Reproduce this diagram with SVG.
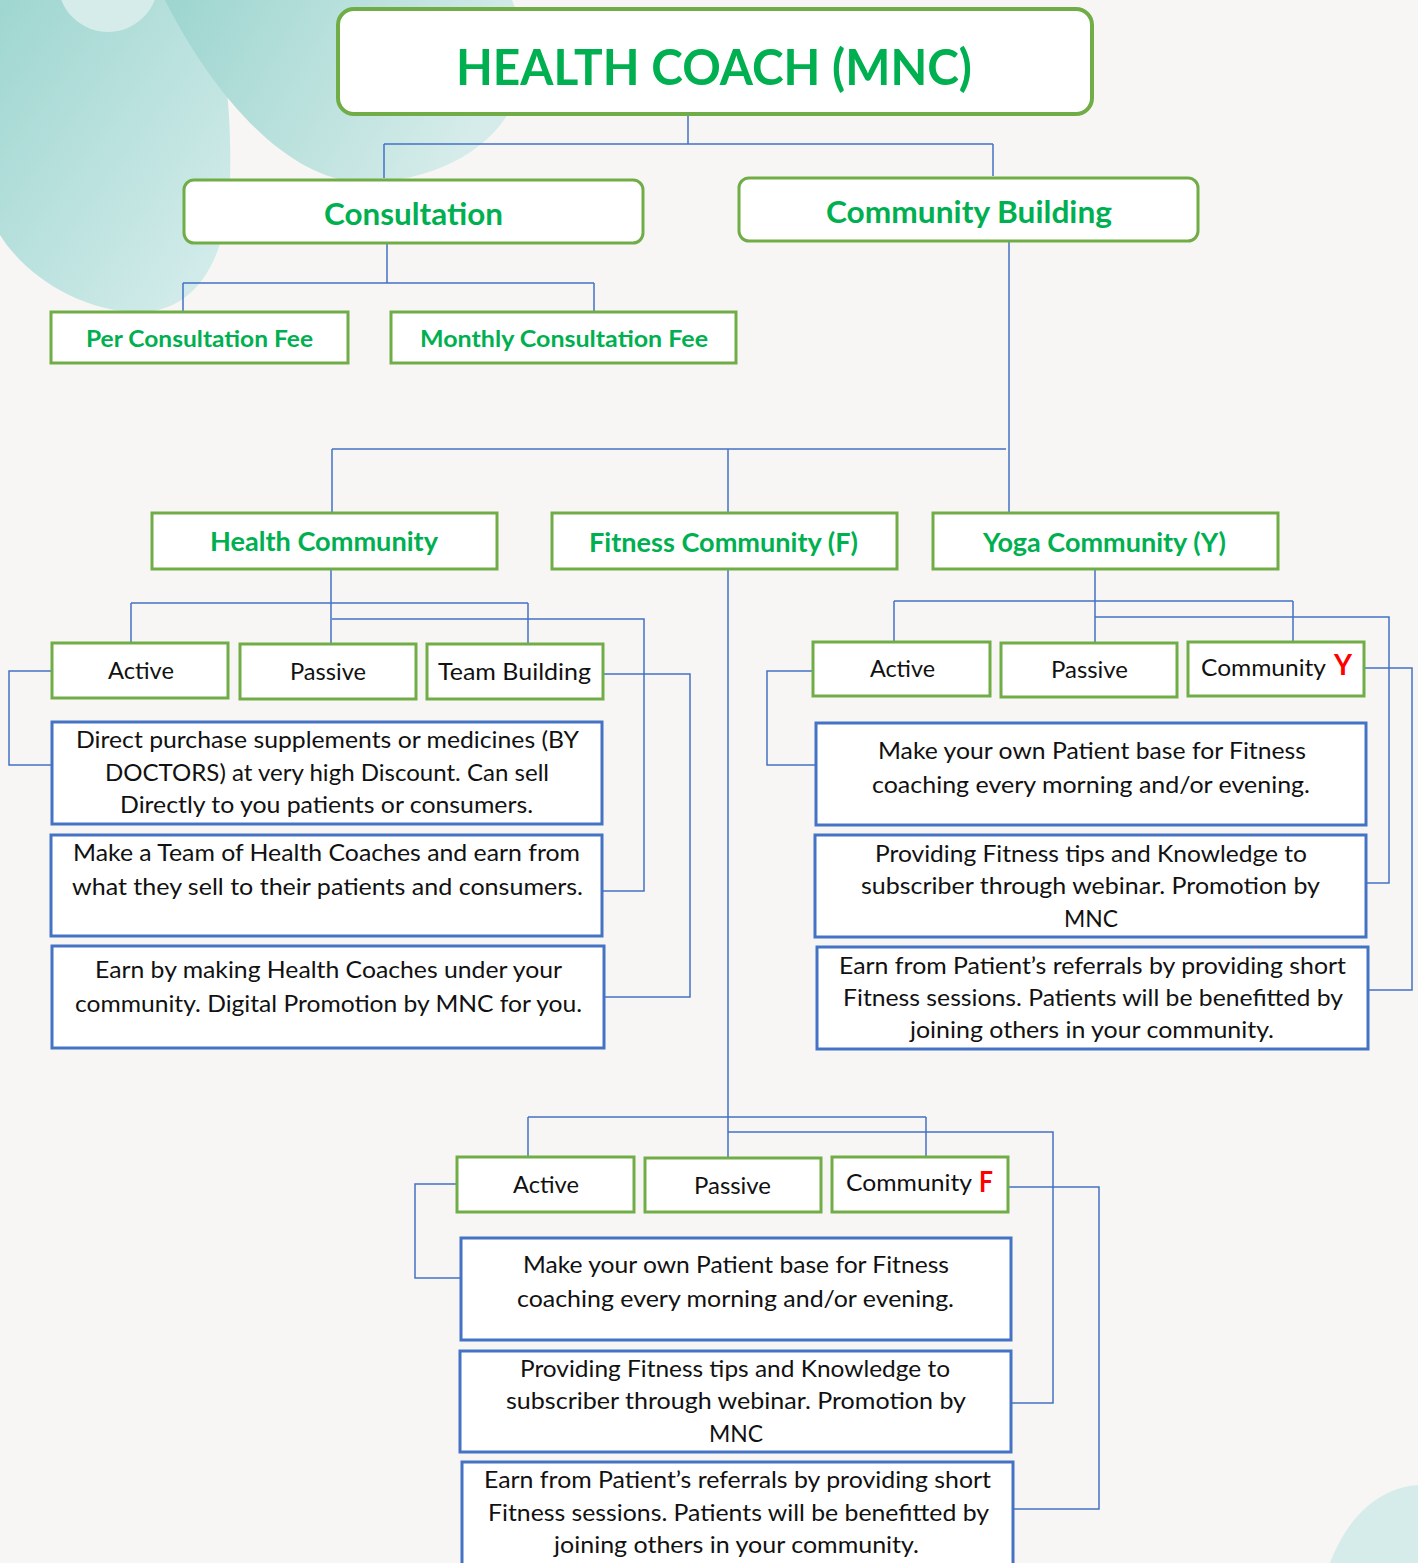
<svg xmlns="http://www.w3.org/2000/svg" width="1418" height="1563" viewBox="0 0 1418 1563">
<defs>
<linearGradient id="gA" x1="0" y1="0" x2="1" y2="1">
<stop offset="0" stop-color="#9fd6d0"/>
<stop offset="1" stop-color="#d8eeed"/>
</linearGradient>
<linearGradient id="gB" x1="0" y1="0" x2="1" y2="0.3">
<stop offset="0" stop-color="#9dd5cf"/>
<stop offset="1" stop-color="#d6ecea"/>
</linearGradient>
<style>
.g{fill:#fff;stroke:#70ad47;stroke-width:3}
.b{fill:#fff;stroke:#4472c4;stroke-width:3}
.c{fill:none;stroke:#4472c4;stroke-width:1.5}
.tg{font-family:Lato,"Liberation Sans",sans-serif;font-weight:700;fill:#00b050}
.t{font-family:Lato,"Liberation Sans",sans-serif;font-size:24px;fill:#111}
.tx{font-family:Lato,"Liberation Sans",sans-serif;font-size:23px;fill:#111}
.r{font-family:Lato,"Liberation Sans",sans-serif;font-weight:700;font-size:28px;fill:#ff0000}
</style>
</defs>
<rect width="1418" height="1563" fill="#f7f6f4"/>
<g id="background">
<path d="M0,0 L205,0 C225,45 232,110 230,180 C228,260 195,312 140,312 C80,312 25,275 0,235 Z" fill="url(#gA)"/>
<circle cx="108" cy="-18" r="50" fill="#d5ecea"/>
<path d="M165,0 C215,100 290,180 360,182 C430,184 495,150 515,100 C530,60 522,25 512,0 Z" fill="url(#gB)"/>
<path d="M1330,1563 C1350,1510 1385,1487 1418,1485 L1418,1563 Z" fill="#d6ecea"/>
</g>
<g id="connectors">
<path class="c" d="M688,115 V144 M384,144 H993 M384,144 V178 M993,144 V176"/>
<path class="c" d="M387,243 V283 M183,283 H594 M183,283 V312 M594,283 V312"/>
<path class="c" d="M1009,241 V513 M332,449 H1006 M332,449 V513 M728,449 V513"/>
<path class="c" d="M331,569 V643 M131,603 H528 M131,603 V643 M528,603 V644 M332,619 H644 V891 H602"/>
<path class="c" d="M52,671 H9 V765 H52"/>
<path class="c" d="M604,674 H690 V997 H605"/>
<path class="c" d="M1095,569 V642 M894,601 H1293 M894,601 V642 M1293,601 V642 M1095,617 H1389 V883 H1367"/>
<path class="c" d="M813,671 H767 V765 H816"/>
<path class="c" d="M1364,668 H1412 V990 H1368"/>
<path class="c" d="M728,569 V1157 M528,1117 H926 M528,1117 V1157 M926,1117 V1157 M728,1132 H1053 V1403 H1011"/>
<path class="c" d="M457,1184 H415 V1278 H461"/>
<path class="c" d="M1008,1187 H1099 V1509 H1013"/>
</g>
<g id="root">
<rect x="338" y="9" width="754" height="105" rx="16" class="g" style="stroke-width:4"/>
<text class="tg" x="456" y="85" font-size="50" textLength="516" lengthAdjust="spacingAndGlyphs">HEALTH COACH (MNC)</text>
</g>
<g id="consultation">
<rect x="184" y="180" width="459" height="63" rx="10" class="g"/>
<text class="tg" x="324" y="225" font-size="31" textLength="179" lengthAdjust="spacingAndGlyphs">Consultation</text>
</g>
<g id="community-building">
<rect x="739" y="178" width="459" height="63" rx="10" class="g"/>
<text class="tg" x="826" y="223" font-size="31" textLength="286" lengthAdjust="spacingAndGlyphs">Community Building</text>
</g>
<g id="per-consultation-fee">
<rect x="51" y="312" width="297" height="51" class="g"/>
<text class="tg" x="86" y="347" font-size="22" textLength="227" lengthAdjust="spacingAndGlyphs">Per Consultation Fee</text>
</g>
<g id="monthly-consultation-fee">
<rect x="391" y="312" width="345" height="51" class="g"/>
<text class="tg" x="420" y="347" font-size="22" textLength="288" lengthAdjust="spacingAndGlyphs">Monthly Consultation Fee</text>
</g>
<g id="health-community">
<rect x="152" y="513" width="345" height="56" class="g"/>
<text class="tg" x="210" y="551" font-size="27" textLength="228" lengthAdjust="spacingAndGlyphs">Health Community</text>
</g>
<g id="fitness-community">
<rect x="552" y="513" width="345" height="56" class="g"/>
<text class="tg" x="589" y="552" font-size="27" textLength="269" lengthAdjust="spacingAndGlyphs">Fitness Community (F)</text>
</g>
<g id="yoga-community">
<rect x="933" y="513" width="345" height="56" class="g"/>
<text class="tg" x="983" y="552" font-size="27" textLength="243" lengthAdjust="spacingAndGlyphs">Yoga Community (Y)</text>
</g>
<g id="hc-active">
<rect x="52" y="643" width="176" height="55" class="g"/>
<text class="t" x="108" y="679" textLength="66" lengthAdjust="spacingAndGlyphs">Active</text>
</g>
<g id="hc-passive">
<rect x="240" y="644" width="176" height="55" class="g"/>
<text class="t" x="290" y="680" textLength="76" lengthAdjust="spacingAndGlyphs">Passive</text>
</g>
<g id="hc-team-building">
<rect x="427" y="644" width="176" height="55" class="g"/>
<text class="t" x="438" y="680" textLength="153" lengthAdjust="spacingAndGlyphs">Team Building</text>
</g>
<g id="hc-box1">
<rect x="52" y="722" width="550" height="102" class="b"/>
<text class="tx" x="76" y="748" textLength="503" lengthAdjust="spacingAndGlyphs">Direct purchase supplements or medicines (BY</text>
<text class="tx" x="105" y="781" textLength="444" lengthAdjust="spacingAndGlyphs">DOCTORS) at very high Discount. Can sell</text>
<text class="tx" x="120" y="813" textLength="413" lengthAdjust="spacingAndGlyphs">Directly to you patients or consumers.</text>
</g>
<g id="hc-box2">
<rect x="51" y="835" width="551" height="101" class="b"/>
<text class="tx" x="73" y="861" textLength="507" lengthAdjust="spacingAndGlyphs">Make a Team of Health Coaches and earn from</text>
<text class="tx" x="72" y="895" textLength="511" lengthAdjust="spacingAndGlyphs">what they sell to their patients and consumers.</text>
</g>
<g id="hc-box3">
<rect x="52" y="946" width="552" height="102" class="b"/>
<text class="tx" x="95" y="978" textLength="467" lengthAdjust="spacingAndGlyphs">Earn by making Health Coaches under your</text>
<text class="tx" x="75" y="1012" textLength="507" lengthAdjust="spacingAndGlyphs">community. Digital Promotion by MNC for you.</text>
</g>
<g id="yoga-active">
<rect x="813" y="642" width="177" height="54" class="g"/>
<text class="t" x="870" y="677" textLength="65" lengthAdjust="spacingAndGlyphs">Active</text>
</g>
<g id="yoga-passive">
<rect x="1001" y="643" width="176" height="54" class="g"/>
<text class="t" x="1051" y="678" textLength="77" lengthAdjust="spacingAndGlyphs">Passive</text>
</g>
<g id="yoga-community-y">
<rect x="1188" y="642" width="176" height="54" class="g"/>
<text class="t" x="1201" y="676" textLength="125" lengthAdjust="spacingAndGlyphs">Community</text>
<text class="r" x="1334" y="675" textLength="18" lengthAdjust="spacingAndGlyphs">Y</text>
</g>
<g id="yoga-box1">
<rect x="816" y="723" width="550" height="102" class="b"/>
<text class="tx" x="878" y="759" textLength="428" lengthAdjust="spacingAndGlyphs">Make your own Patient base for Fitness</text>
<text class="tx" x="872" y="793" textLength="438" lengthAdjust="spacingAndGlyphs">coaching every morning and/or evening.</text>
</g>
<g id="yoga-box2">
<rect x="815" y="835" width="551" height="102" class="b"/>
<text class="tx" x="875" y="862" textLength="432" lengthAdjust="spacingAndGlyphs">Providing Fitness tips and Knowledge to</text>
<text class="tx" x="861" y="894" textLength="459" lengthAdjust="spacingAndGlyphs">subscriber through webinar. Promotion by</text>
<text class="tx" x="1064" y="927" textLength="54" lengthAdjust="spacingAndGlyphs">MNC</text>
</g>
<g id="yoga-box3">
<rect x="817" y="947" width="551" height="102" class="b"/>
<text class="tx" x="839" y="974" textLength="507" lengthAdjust="spacingAndGlyphs">Earn from Patient’s referrals by providing short</text>
<text class="tx" x="843" y="1006" textLength="500" lengthAdjust="spacingAndGlyphs">Fitness sessions. Patients will be benefitted by</text>
<text class="tx" x="910" y="1038" textLength="364" lengthAdjust="spacingAndGlyphs">joining others in your community.</text>
</g>
<g id="fit-active">
<rect x="457" y="1157" width="177" height="55" class="g"/>
<text class="t" x="513" y="1193" textLength="66" lengthAdjust="spacingAndGlyphs">Active</text>
</g>
<g id="fit-passive">
<rect x="645" y="1158" width="176" height="54" class="g"/>
<text class="t" x="694" y="1194" textLength="77" lengthAdjust="spacingAndGlyphs">Passive</text>
</g>
<g id="fit-community-f">
<rect x="832" y="1157" width="176" height="55" class="g"/>
<text class="t" x="846" y="1191" textLength="126" lengthAdjust="spacingAndGlyphs">Community</text>
<text class="r" x="979" y="1192" textLength="14" lengthAdjust="spacingAndGlyphs">F</text>
</g>
<g id="fit-box1">
<rect x="461" y="1238" width="550" height="102" class="b"/>
<text class="tx" x="523" y="1273" textLength="426" lengthAdjust="spacingAndGlyphs">Make your own Patient base for Fitness</text>
<text class="tx" x="517" y="1307" textLength="437" lengthAdjust="spacingAndGlyphs">coaching every morning and/or evening.</text>
</g>
<g id="fit-box2">
<rect x="460" y="1351" width="551" height="101" class="b"/>
<text class="tx" x="520" y="1377" textLength="430" lengthAdjust="spacingAndGlyphs">Providing Fitness tips and Knowledge to</text>
<text class="tx" x="506" y="1409" textLength="460" lengthAdjust="spacingAndGlyphs">subscriber through webinar. Promotion by</text>
<text class="tx" x="709" y="1442" textLength="54" lengthAdjust="spacingAndGlyphs">MNC</text>
</g>
<g id="fit-box3">
<rect x="462" y="1462" width="551" height="104" class="b"/>
<text class="tx" x="484" y="1488" textLength="507" lengthAdjust="spacingAndGlyphs">Earn from Patient’s referrals by providing short</text>
<text class="tx" x="488" y="1521" textLength="501" lengthAdjust="spacingAndGlyphs">Fitness sessions. Patients will be benefitted by</text>
<text class="tx" x="554" y="1553" textLength="365" lengthAdjust="spacingAndGlyphs">joining others in your community.</text>
</g>
</svg>
